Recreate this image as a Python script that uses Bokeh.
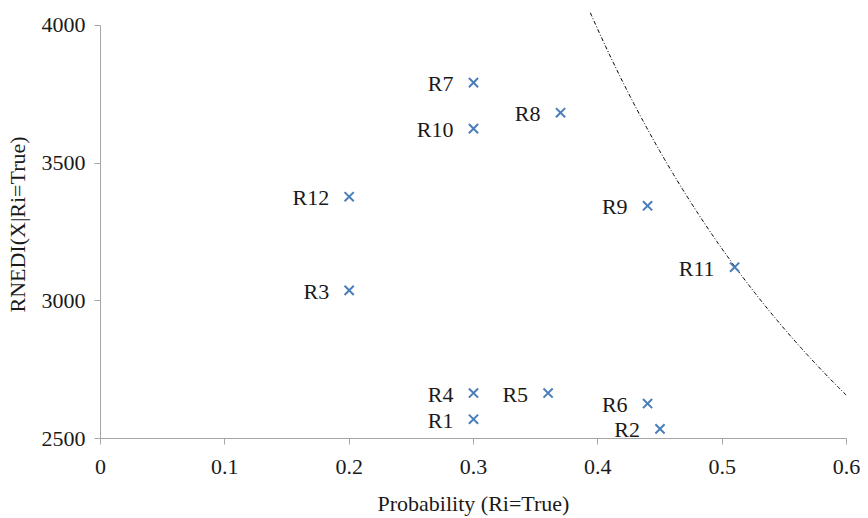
from bokeh.plotting import figure
from bokeh.models import ColumnDataSource, FixedTicker, NumeralTickFormatter, Range1d
from bokeh.embed import file_html
from bokeh.resources import INLINE
from bokeh.core.properties import value

# Data
names = ["R1", "R2", "R3", "R4", "R5", "R6", "R7", "R8", "R9", "R10", "R11", "R12"]
probability = [0.30, 0.45, 0.20, 0.30, 0.36, 0.44, 0.30, 0.37, 0.44, 0.30, 0.51, 0.20]
rnedi = [2570, 2535, 3038, 2665, 2665, 2627, 3792, 3683, 3345, 3625, 3122, 3378]

# Iso-risk curve (probability x RNEDI = constant)
risk_level = 1594
curve_x = [0.394 + i * (0.6 - 0.394) / 200 for i in range(201)]
curve_y = [risk_level / xv for xv in curve_x]

x_ticks = [0, 0.1, 0.2, 0.3, 0.4, 0.5, 0.6]
y_ticks = [2500, 3000, 3500, 4000]

FONT = "'Liberation Serif', 'Times New Roman', serif"
AXIS_GRAY = "#a6a6a6"
FS = "22px"

p = figure(width=860, height=518, output_backend="svg", toolbar_location=None,
           x_range=Range1d(0, 0.6), y_range=Range1d(2500, 4054),
           min_border_left=100, min_border_right=14, min_border_top=10, min_border_bottom=79)
p.outline_line_color = None
p.xgrid.visible = False
p.ygrid.visible = False

src = ColumnDataSource(dict(x=probability, y=rnedi, name=names))
p.line(curve_x, curve_y, line_color="black", line_width=1, line_dash="4 2 1 2")
p.scatter("x", "y", source=src, marker="x", size=13, line_color="#4a7ebb", line_width=2)
p.text("x", "y", text="name", source=src, text_align="right", text_baseline="middle",
       x_offset=-20, y_offset=1, text_font=value(FONT), text_font_size=FS, text_color="#1a1a1a")

for ax in (p.xaxis[0], p.yaxis[0]):
    ax.axis_line_color = AXIS_GRAY
    ax.major_tick_line_color = AXIS_GRAY
    ax.minor_tick_line_color = None
    ax.major_tick_in = 0
    ax.major_tick_out = 6
    ax.major_label_text_font = FONT
    ax.major_label_text_font_size = FS
    ax.major_label_text_color = "#1a1a1a"
    ax.axis_label_text_font = FONT
    ax.axis_label_text_font_size = FS
    ax.axis_label_text_font_style = "normal"
    ax.axis_label_text_color = "#1a1a1a"

p.xaxis.ticker = FixedTicker(ticks=x_ticks)
p.xaxis.formatter = NumeralTickFormatter(format="0.[0]")
p.xaxis.axis_label = "Probability (Ri=True)"
p.xaxis.major_label_standoff = 15
p.xaxis.axis_label_standoff = 14

p.yaxis.ticker = FixedTicker(ticks=y_ticks)
p.yaxis.bounds = (2500, 4000)
p.yaxis.axis_label = "RNEDI(X|Ri=True)"
p.yaxis.major_label_standoff = 9
p.yaxis.axis_label_standoff = 9

open("out.html", "w").write(file_html(p, INLINE))
